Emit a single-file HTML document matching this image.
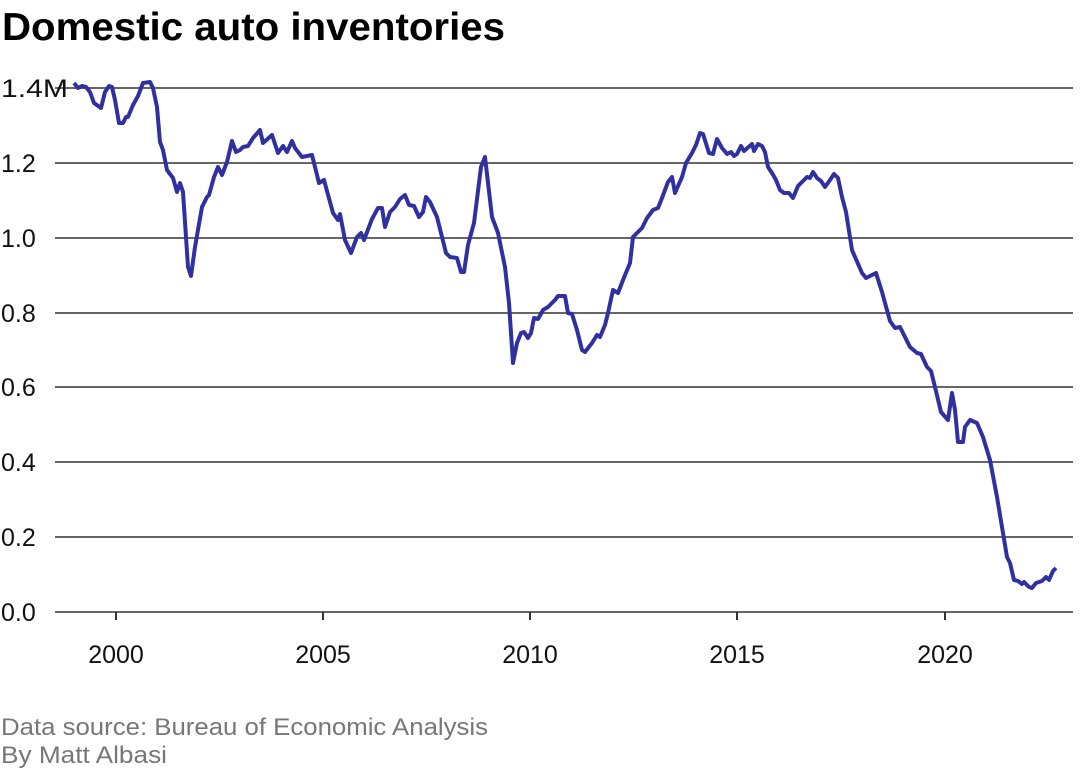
<!DOCTYPE html>
<html><head><meta charset="utf-8"><style>
body{margin:0;background:#fff;width:1080px;height:770px;overflow:hidden;font-family:"Liberation Sans",sans-serif}
</style></head><body>
<svg width="1080" height="770" xmlns="http://www.w3.org/2000/svg" font-family="Liberation Sans, sans-serif">
<text x="2" y="40" font-size="39" font-weight="bold" fill="#000" textLength="503" lengthAdjust="spacingAndGlyphs">Domestic auto inventories</text>
<g stroke="#666" stroke-width="2">
<line x1="55" y1="88" x2="1073" y2="88"/><line x1="55" y1="163" x2="1073" y2="163"/><line x1="55" y1="238" x2="1073" y2="238"/><line x1="55" y1="313" x2="1073" y2="313"/><line x1="55" y1="387" x2="1073" y2="387"/><line x1="55" y1="462" x2="1073" y2="462"/><line x1="55" y1="537" x2="1073" y2="537"/><line x1="55" y1="612" x2="1073" y2="612"/>
</g>
<g stroke="#333" stroke-width="2"><line x1="116" y1="612" x2="116" y2="620"/><line x1="323" y1="612" x2="323" y2="620"/><line x1="530" y1="612" x2="530" y2="620"/><line x1="737" y1="612" x2="737" y2="620"/><line x1="945" y1="612" x2="945" y2="620"/></g>
<g font-size="25" fill="#111">
<text x="1" y="97" textLength="67" lengthAdjust="spacingAndGlyphs">1.4M</text><text x="1" y="172">1.2</text><text x="1" y="247">1.0</text><text x="1" y="322">0.8</text><text x="1" y="396">0.6</text><text x="1" y="471">0.4</text><text x="1" y="546">0.2</text><text x="1" y="621">0.0</text>
</g>
<g font-size="25" fill="#111" text-anchor="middle"><text x="116" y="663">2000</text><text x="323" y="663">2005</text><text x="530" y="663">2010</text><text x="737" y="663">2015</text><text x="945" y="663">2020</text></g>
<polyline fill="none" stroke="#3030a0" stroke-width="4" stroke-linejoin="round" points="74,83 78,88 82,86 86,87 90,92 94,103 101,108 105,92 109,86 112,87 115,100 119,123 123,123 126,117 128,117 133,105 138,96 143,83 150,82 153,88 157,107 160,142 163,150 167,170 173,178 177,192 180,183 183,192 188,267 191,276 195,247 202,207 207,197 209,195 214,177 218,167 222,175 227,162 232,141 236,152 240,150 243,147 248,146 253,138 260,130 263,143 272,135 278,153 283,146 287,152 292,141 295,148 302,157 312,155 319,183 324,180 333,213 338,220 340,214 345,240 351,253 357,237 361,233 364,240 372,219 378,208 382,208 385,227 390,212 395,207 400,199 405,195 409,205 414,206 419,217 423,212 426,197 430,202 437,217 446,253 450,257 457,258 461,272 464,272 468,245 474,223 481,167 485,157 492,217 498,233 505,267 509,303 513,363 517,343 521,333 524,332 528,338 531,333 534,318 538,319 543,310 548,307 555,300 558,296 565,296 568,313 572,314 577,330 582,350 585,352 592,343 597,335 600,337 605,325 608,313 613,290 618,293 623,280 630,263 633,237 637,233 642,228 647,218 653,210 658,208 662,198 668,182 672,177 675,193 682,177 686,163 692,153 696,145 700,133 703,134 709,153 713,154 717,139 722,148 727,154 731,152 734,156 737,154 741,146 744,151 752,144 754,151 758,144 762,146 765,152 768,167 772,173 776,180 780,190 784,193 789,193 793,198 798,186 802,182 807,177 810,178 813,172 817,178 821,181 825,187 830,180 834,174 838,178 842,197 846,212 852,250 862,273 866,278 876,273 882,292 890,321 895,328 900,327 910,347 917,353 921,354 927,367 931,371 935,387 941,412 948,420 952,393 955,410 958,442 963,442 965,427 970,420 977,423 983,437 990,460 997,497 1003,533 1007,557 1010,563 1014,580 1018,581 1022,584 1024,582 1029,587 1032,588 1036,583 1042,581 1046,577 1049,580 1053,571 1056,568"/>
<g font-size="24" fill="#777"><text x="1" y="735" textLength="487" lengthAdjust="spacingAndGlyphs">Data source: Bureau of Economic Analysis</text><text x="1" y="763" textLength="166" lengthAdjust="spacingAndGlyphs">By Matt Albasi</text></g>
</svg>
</body></html>
